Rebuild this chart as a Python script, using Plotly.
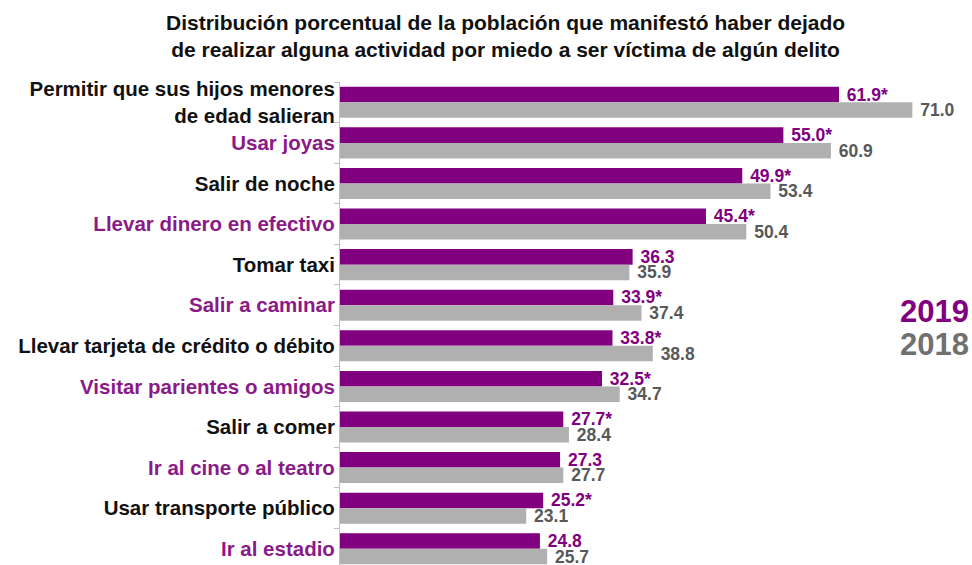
import plotly.graph_objects as go

# Data
# ==============================================================================
categorias = [
    "Permitir que sus hijos menores<br>de edad salieran",
    "Usar joyas",
    "Salir de noche",
    "Llevar dinero en efectivo",
    "Tomar taxi",
    "Salir a caminar",
    "Llevar tarjeta de crédito o débito",
    "Visitar parientes o amigos",
    "Salir a comer",
    "Ir al cine o al teatro",
    "Usar transporte público",
    "Ir al estadio",
]
valores_2019 = [61.9, 55.0, 49.9, 45.4, 36.3, 33.9, 33.8, 32.5, 27.7, 27.3, 25.2, 24.8]
valores_2018 = [71.0, 60.9, 53.4, 50.4, 35.9, 37.4, 38.8, 34.7, 28.4, 27.7, 23.1, 25.7]
# diferencia significativa marcada con asterisco
significativo = [True, True, True, True, False, True, True, True, True, False, True, False]

PURPLE = "#800080"
PURPLE_TXT = "#8A1A88"
GRAY_BAR = "#B0B0B0"
GRAY_TXT = "#595959"
FONT = "Liberation Sans"

texto_2019 = [f"{v:.1f}*" if s else f"{v:.1f}" for v, s in zip(valores_2019, significativo)]
texto_2018 = [f"{v:.1f}" for v in valores_2018]

# alternate label colours: black / purple
etiquetas = [
    f'<span style="color:{"#111111" if i % 2 == 0 else PURPLE_TXT}"><b>{c}</b></span>'
    for i, c in enumerate(categorias)
]

# Figure
# ==============================================================================
fig = go.Figure()

fig.add_trace(go.Bar(
    y=categorias, x=valores_2019, orientation="h", name="2019",
    marker=dict(color=PURPLE, line=dict(width=0)),
    text=texto_2019, texttemplate="\u00a0%{text}",
    textposition="outside", constraintext="none", cliponaxis=False,
    textfont=dict(family=FONT, size=17.5, color=PURPLE, weight="bold"),
))
fig.add_trace(go.Bar(
    y=categorias, x=valores_2018, orientation="h", name="2018",
    marker=dict(color=GRAY_BAR, line=dict(width=0)),
    text=texto_2018, texttemplate="\u00a0%{text}",
    textposition="outside", constraintext="none", cliponaxis=False,
    textfont=dict(family=FONT, size=17.5, color=GRAY_TXT, weight="bold"),
))

fig.update_layout(
    width=972, height=565,
    margin=dict(l=340, r=0, t=82, b=0),
    paper_bgcolor="white", plot_bgcolor="white",
    barmode="group", bargap=0.235, bargroupgap=0,
    showlegend=False,
    font=dict(family=FONT),
)

fig.update_xaxes(range=[0, 78.4], visible=False, showgrid=False, zeroline=False)
fig.update_yaxes(
    type="category",
    range=[11.4, -0.5],
    tickvals=categorias, ticktext=etiquetas,
    tickfont=dict(family=FONT, size=20.5),
    showline=True, linecolor="#BFBFBF", linewidth=1,
    ticks="outside", tickson="boundaries", ticklen=5, tickcolor="#BFBFBF",
    showgrid=False, zeroline=False, automargin=False,
)

# title as annotation (two centred lines)
fig.add_annotation(
    text="<b>Distribución porcentual de la población que manifestó haber dejado<br>"
         "de realizar alguna actividad por miedo a ser víctima de algún delito</b>",
    x=(505 - 340) / 632, y=(565 - 36) / 483, xref="paper", yref="paper",
    xanchor="center", yanchor="middle", showarrow=False, align="center",
    font=dict(family=FONT, size=21, color="#111111"),
)

# legend text
fig.add_annotation(text="<b>2019</b>", x=0.998, y=(565 - 311) / 483, xref="paper", yref="paper",
                   xanchor="right", yanchor="middle", showarrow=False,
                   font=dict(family=FONT, size=31, color=PURPLE))
fig.add_annotation(text="<b>2018</b>", x=0.998, y=(565 - 344) / 483, xref="paper", yref="paper",
                   xanchor="right", yanchor="middle", showarrow=False,
                   font=dict(family=FONT, size=31, color="#707070"))

fig.write_html("out.html", config={"displayModeBar": False},
               post_script="document.body.style.margin='0';document.body.style.overflow='hidden';")
